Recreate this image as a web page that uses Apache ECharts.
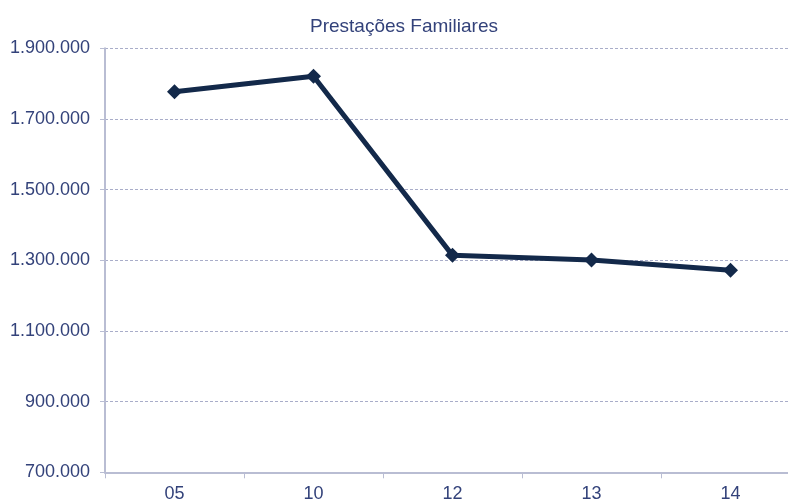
<!DOCTYPE html>
<html>
<head>
<meta charset="utf-8">
<script src="https://cdn.jsdelivr.net/npm/echarts@6/dist/echarts.min.js"></script>
<style>html,body{margin:0;padding:0;background:#fff;overflow:hidden}#c{width:812px;height:504px}</style>
</head>
<body>
<div id="c"></div>
<script>
var categories = ['05', '10', '12', '13', '14'];
var values = [1777000, 1821000, 1314000, 1301000, 1272000];
var yMin = 700000, yMax = 1900000, yStep = 200000;

function fmt(v) {
  return String(v).replace(/\B(?=(\d{3})+(?!\d))/g, '.');
}

var chart = echarts.init(document.getElementById('c'), null, {renderer: 'canvas'});
chart.setOption({
  animation: false,
  backgroundColor: '#ffffff',
  title: {
    text: 'Prestações Familiares',
    left: 305,
    top: 12,
    textStyle: {fontFamily: 'Liberation Sans', fontSize: 19, fontWeight: 'normal', color: '#33427a'}
  },
  grid: {left: 105, right: 12, top: 48.3, bottom: 31.7, containLabel: false},
  xAxis: {
    type: 'category',
    data: categories,
    boundaryGap: true,
    axisLine: {lineStyle: {color: '#b9bdd3', width: 2}},
    axisTick: {show: true, length: 6, lineStyle: {color: '#b9bdd3', width: 1}},
    axisLabel: {fontFamily: 'Liberation Sans', fontSize: 18, color: '#33427a', margin: 13},
    splitLine: {show: false}
  },
  yAxis: {
    type: 'value',
    min: yMin,
    max: yMax,
    interval: yStep,
    axisLine: {show: true, lineStyle: {color: '#b9bdd3', width: 2}},
    axisTick: {show: true, length: 5, lineStyle: {color: '#b9bdd3'}},
    axisLabel: {fontFamily: 'Liberation Sans', fontSize: 18, color: '#33427a', margin: 15, formatter: fmt},
    splitLine: {show: true, lineStyle: {color: '#a9adc9', type: [3, 2], width: 1}}
  },
  series: [{
    type: 'line',
    data: values,
    symbol: 'diamond',
    symbolSize: 15,
    lineStyle: {color: '#13294a', width: 5},
    itemStyle: {color: '#13294a'},
    z: 5
  }]
});
</script>
</body>
</html>
